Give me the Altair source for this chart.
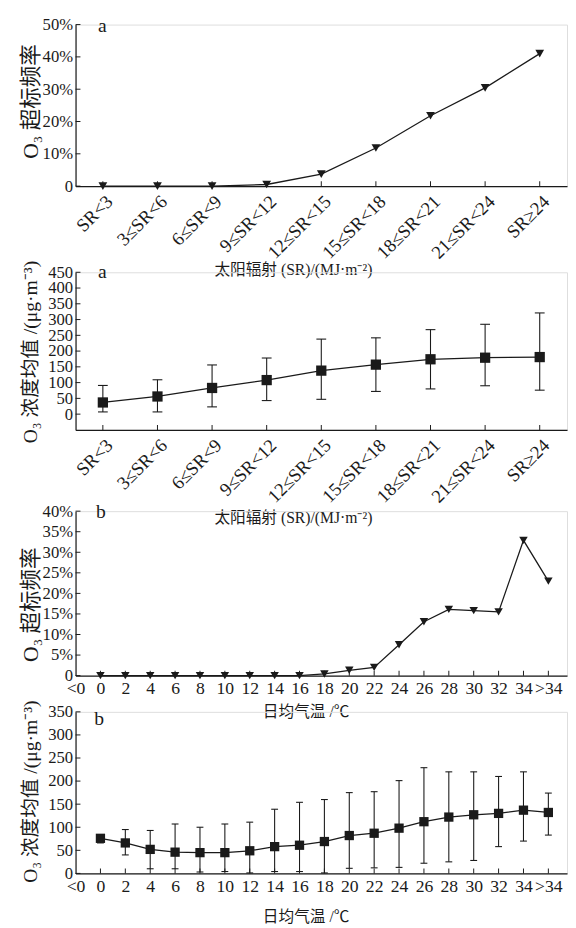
import json
import pandas as pd
import altair as alt

# ---------------- data ----------------
SR_CATS = ["SR<3", "3≤SR<6", "6≤SR<9", "9≤SR<12", "12≤SR<15",
           "15≤SR<18", "18≤SR<21", "21≤SR<24", "SR≥24"]
SR_EXCEED = [0, 0, 0, 0.5, 3.7, 11.8, 21.8, 30.4, 41.0]          # %
SR_MEAN = [37, 56, 83, 108, 138, 157, 174, 179, 181]
SR_UPPER = [91, 109, 156, 178, 238, 242, 268, 285, 321]
SR_LOWER = [7, 7, 23, 43, 47, 72, 80, 90, 76]

T_LABELS = ["<0", "0", "2", "4", "6", "8", "10", "12", "14", "16", "18",
            "20", "22", "24", "26", "28", "30", "32", "34", ">34"]
T_CATS = ["0", "2", "4", "6", "8", "10", "12", "14", "16", "18",
          "20", "22", "24", "26", "28", "30", "32", "34", ">34"]
T_EXCEED = [0, 0, 0, 0, 0, 0, 0, 0, 0, 0.4, 1.3, 2.0, 7.5, 13.1,
            16.1, 15.8, 15.5, 32.9, 23.0]                          # %
T_MEAN = [76, 66, 52, 46, 45, 45, 49, 58, 61, 69, 82, 87, 98, 112,
          122, 127, 130, 137, 132]
T_UPPER = [84, 95, 93, 107, 100, 107, 111, 139, 154, 160, 175, 177,
           201, 229, 220, 220, 210, 220, 174]
T_LOWER = [66, 40, 10, 10, 3, 4, 1, 4, 4, 1, 11, 12, 13, 22, 25, 28,
           58, 70, 83]

SR_TITLE = "太阳辐射 (SR)/(MJ·m⁻²)"
T_TITLE = "日均气温 /℃"
EXCEED_TITLE = "O₃ 超标频率"
MEAN_TITLE = "O₃ 浓度均值 /(μg·m⁻³)"

# ---------------- style ----------------
INK = "#1a1a1a"
NUM_FONT = "Liberation Serif"
TXT_FONT = "Liberation Serif, Noto Sans CJK SC"
W = 502


def panel(cats, labels, xdomain, label_angle, xlabel_size, xlabel_pad,
          values, ydomain, yticks, ylabel_expr, ytitle, ytitle_size, ytitle_y,
          xtitle, xtitle_x, xtitle_y, height, shape, msize, letter,
          letter_x, letter_y, lower=None, upper=None, cap=8):
    pos = [labels.index(c) for c in cats]
    label_js = json.dumps(labels, ensure_ascii=False)
    xaxis = alt.Axis(
        values=list(range(len(labels))), labelExpr=f"{label_js}[datum.value]",
        ticks=False, grid=False, domainColor=INK, domainWidth=1.2,
        labelAngle=label_angle, labelFont=TXT_FONT, labelFontSize=xlabel_size,
        labelColor=INK, labelPadding=xlabel_pad, labelOverlap=False,
        labelFlush=False, labelBound=False,
        title=xtitle, titleFont=TXT_FONT, titleFontSize=16,
        titleFontWeight="normal", titleColor=INK, titleX=xtitle_x,
        titleY=xtitle_y, titleAlign="center", titleBaseline="middle")
    yaxis = alt.Axis(
        values=yticks, labelExpr=ylabel_expr, ticks=False, grid=False,
        domainColor=INK, domainWidth=1.2, labelFont=NUM_FONT, labelFontSize=17,
        labelColor=INK, labelPadding=3, labelOverlap=False, labelFlush=False,
        title=ytitle, titleFont=TXT_FONT, titleFontSize=ytitle_size,
        titleFontWeight="normal", titleColor=INK, titleX=-46, titleY=ytitle_y,
        titleAngle=270, titleAlign="center", titleBaseline="middle")
    X = alt.X("x:Q", scale=alt.Scale(domain=xdomain, nice=False, zero=False), axis=xaxis)
    Y = alt.Y("y:Q", scale=alt.Scale(domain=ydomain, nice=False, zero=False), axis=yaxis)

    df = pd.DataFrame({"x": pos, "y": values})
    layers = []
    if lower is not None:
        edf = pd.DataFrame({"x": pos, "y": lower, "y2": upper})
        layers.append(alt.Chart(edf).mark_rule(color=INK, strokeWidth=1.1)
                      .encode(x=X, y=Y, y2="y2:Q"))
        layers.append(alt.Chart(pd.DataFrame({"x": pos, "y": lower}))
                      .mark_tick(orient="horizontal", size=cap, thickness=1.1, color=INK, opacity=1)
                      .encode(x=X, y=Y))
        layers.append(alt.Chart(pd.DataFrame({"x": pos, "y": upper}))
                      .mark_tick(orient="horizontal", size=cap, thickness=1.1, color=INK, opacity=1)
                      .encode(x=X, y=Y))
    layers.append(alt.Chart(df).mark_line(color=INK, strokeWidth=1.3).encode(x=X, y=Y))
    layers.append(alt.Chart(df).mark_point(shape=shape, filled=True, size=msize,
                                           color=INK, opacity=1).encode(x=X, y=Y))
    # inward tick marks
    xt = [p for p in range(len(labels)) if p > xdomain[0]]
    layers.append(alt.Chart(pd.DataFrame({"x": xt, "y": [ydomain[0]] * len(xt)}))
                  .mark_tick(orient="vertical", size=5, thickness=1, color=INK,
                             opacity=1, yOffset=-2.5)
                  .encode(x=X, y=Y))
    layers.append(alt.Chart(pd.DataFrame({"x": [xdomain[0]] * len(yticks), "y": yticks}))
                  .mark_tick(orient="horizontal", size=5, thickness=1, color=INK,
                             opacity=1, xOffset=2.5)
                  .encode(x=X, y=Y))
    layers.append(alt.Chart(pd.DataFrame({"t": [letter]}))
                  .mark_text(font=NUM_FONT, fontSize=20, color=INK, align="left",
                             baseline="alphabetic")
                  .encode(x=alt.value(letter_x), y=alt.value(letter_y), text="t:N"))
    return alt.layer(*layers).properties(width=W, height=height)


def spacer(h):
    return (alt.Chart(pd.DataFrame({"v": [0]})).mark_point(opacity=0)
            .properties(width=W, height=h))


pct_expr = "datum.value == 0 ? '0' : datum.value + '%'"

p1 = panel(SR_CATS, SR_CATS, [-0.5, 8.5], 315, 19, 6,
           SR_EXCEED, [0, 50], [0, 10, 20, 30, 40, 50], pct_expr,
           EXCEED_TITLE, 22, 78, SR_TITLE, 222, 85, 165,
           "triangle-down", 80, "a", 23, 8)
p2 = panel(SR_CATS, SR_CATS, [-0.5, 8.5], 315, 19, 6,
           SR_MEAN, [-50, 450], list(range(0, 451, 50)), "datum.label",
           MEAN_TITLE, 20, 81, SR_TITLE, 222, 90, 161,
           "square", 110, "a", 23, 6, lower=SR_LOWER, upper=SR_UPPER, cap=10)
p3 = panel(T_CATS, T_LABELS, [0, 19.75], 0, 18, 4,
           T_EXCEED, [0, 40], list(range(0, 41, 5)), pct_expr,
           EXCEED_TITLE, 22, 95, T_TITLE, 235, 37, 168,
           "triangle-down", 75, "b", 21, 7)
p4 = panel(T_CATS, T_LABELS, [0, 19.75], 0, 18, 4,
           T_MEAN, [0, 350], list(range(0, 351, 50)), "datum.label",
           MEAN_TITLE, 20, 81, T_TITLE, 235, 44, 165,
           "square", 90, "b", 19, 13, lower=T_LOWER, upper=T_UPPER, cap=7)

chart = (alt.vconcat(p1, spacer(88), p2, spacer(83), p3, spacer(37), p4, spacing=0)
         .properties(bounds="flush",
                     padding={"left": 11, "top": -3, "right": 0, "bottom": 0})
         .configure_view(strokeWidth=0)
         .configure(background="white"))

chart.save("out.html", embed_options={"renderer": "svg", "actions": False})
